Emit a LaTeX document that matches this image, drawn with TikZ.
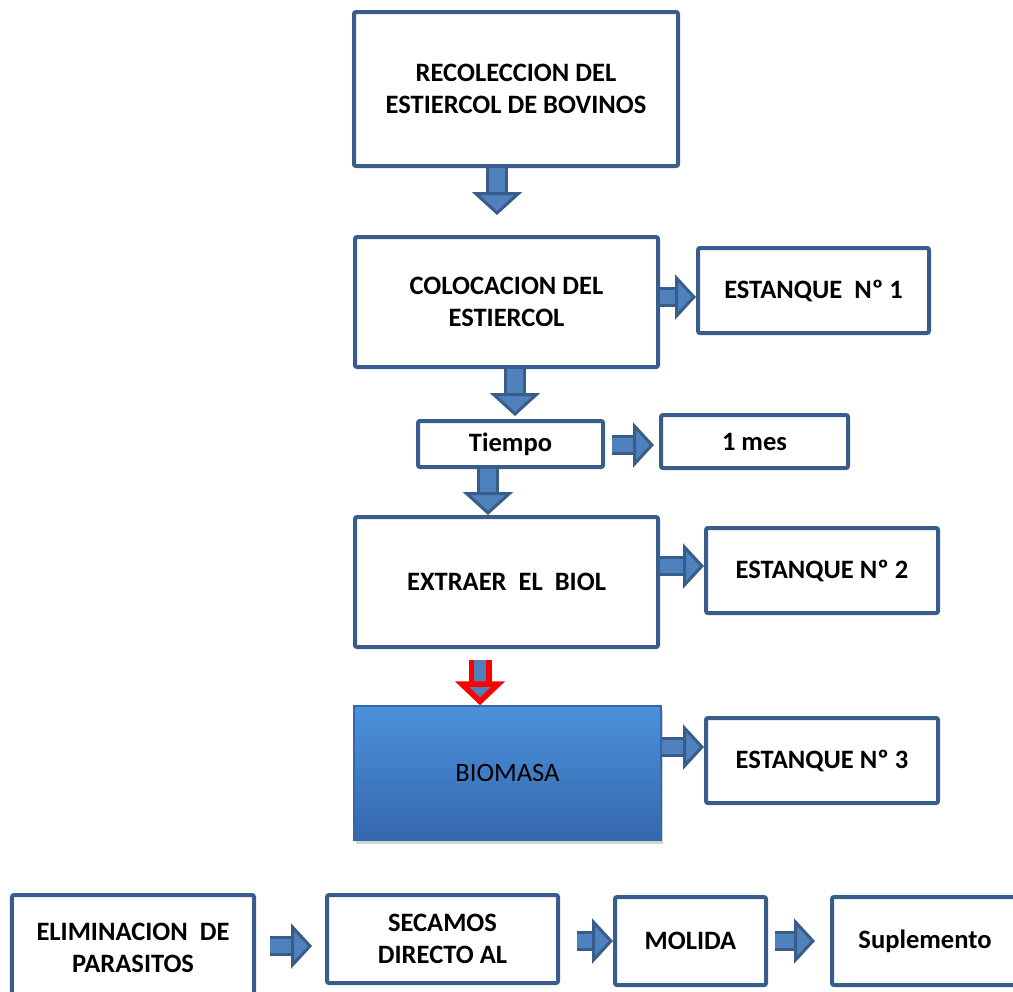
\documentclass[tikz,border=0pt]{standalone}
\usepackage{fontspec}
\setmainfont{Carlito}
\usetikzlibrary{arrows.meta, shadows}
\definecolor{boxline}{RGB}{56,93,138}
\definecolor{arrowblue}{RGB}{79,129,189}
\definecolor{biotop}{RGB}{76,145,220}
\definecolor{biobot}{RGB}{52,104,172}
\tikzstyle{process} = [rectangle, inner sep=0pt, draw=boxline, line width=0.8mm, rounded corners=0.4mm, fill=white, align=center, font=\fontsize{15.1}{18.2}\selectfont\bfseries]
\tikzstyle{bigarrow} = [draw=boxline, line width=0.6mm, double=arrowblue, double distance=3.2mm, -{Triangle[length=4.6mm, width=10mm, line width=0.6mm, fill=arrowblue]}]
\tikzstyle{sidearrow} = [draw=boxline, line width=0.6mm, double=arrowblue, double distance=2.8mm, -{Triangle[length=4.2mm, width=9mm, line width=0.6mm, fill=arrowblue]}]
\tikzstyle{redarrow} = [draw=red, line width=1.1mm, double=arrowblue, double distance=2.4mm, -{Triangle[length=4.8mm, width=9.8mm, line width=1.1mm, fill=arrowblue]}]

\begin{document}
\begin{tikzpicture}[x=0.2mm, y=-0.2mm]
\useasboundingbox (0,0) rectangle (1013,991);

\node (recol) [process, minimum width=64.8mm, minimum height=30.8mm] at (516,89) {RECOLECCION DEL\\ESTIERCOL DE BOVINOS};
\node (coloc) [process, minimum width=60.6mm, minimum height=26mm] at (506.5,302) {COLOCACION DEL\\ESTIERCOL};
\node (est1) [process, minimum width=46.2mm, minimum height=17mm] at (813.5,290.5) {ESTANQUE~~Nº 1};
\node (tiempo) [process, minimum width=37mm, minimum height=9.2mm] at (510.5,444) {Tiempo};
\node (mes) [process, minimum width=37.4mm, minimum height=10.6mm] at (754.5,441.5) {1 mes};
\node (extraer) [process, minimum width=60.6mm, minimum height=26mm] at (506.5,582) {EXTRAER~~EL~~BIOL};
\node (est2) [process, minimum width=46.4mm, minimum height=17mm] at (822,570.5) {ESTANQUE Nº 2};
\node (biomasa) [rectangle, inner sep=0pt, minimum width=61.4mm, minimum height=26.8mm, top color=biotop, bottom color=biobot, draw=biobot, line width=0.3mm, drop shadow={shadow xshift=0.4mm, shadow yshift=-0.8mm, opacity=0.35}, font=\fontsize{15.1}{18.2}\selectfont] at (507.5,773) {BIOMASA};
\node (est3) [process, minimum width=46.4mm, minimum height=17mm] at (822,760.5) {ESTANQUE Nº 3};

\node (elim) [process, minimum width=48.4mm, minimum height=21.2mm] at (133,948) {ELIMINACION~~DE\\PARASITOS};
\node (secamos) [process, minimum width=46.2mm, minimum height=17.6mm] at (442.5,939) {SECAMOS\\DIRECTO AL};
\node (molida) [process, minimum width=30.2mm, minimum height=17.6mm] at (690.5,941) {MOLIDA};
\node (suple) [process, minimum width=37.2mm, minimum height=17.6mm] at (925,941) {Suplemento};

\draw [bigarrow, shorten >=4mm] (497,0 |- recol.south) -- (497,0 |- coloc.north);
\draw [sidearrow] (coloc.east |- 0,297) -- (est1.west |- 0,297);
\draw [bigarrow, shorten >=0.6mm] (515,0 |- coloc.south) -- (515,0 |- tiempo.north);
\draw [sidearrow, shorten <=1.4mm, shorten >=1mm] (tiempo.east |- 0,445) -- (mes.west |- 0,445);
\draw [bigarrow] (488,0 |- tiempo.south) -- (488,0 |- extraer.north);
\draw [sidearrow] (extraer.east |- 0,566) -- (est2.west |- 0,566);
\draw [redarrow, shorten <=2.2mm] (480,0 |- extraer.south) -- (480,0 |- biomasa.north);
\draw [sidearrow] (biomasa.east |- 0,747) -- (est3.west |- 0,747);
\draw [sidearrow, shorten <=2.8mm, shorten >=2.6mm] (elim.east |- 0,946) -- (secamos.west |- 0,946);
\draw [sidearrow, shorten <=3.4mm] (secamos.east |- 0,941) -- (molida.west |- 0,941);
\draw [sidearrow, shorten <=1.4mm, shorten >=3mm] (molida.east |- 0,941) -- (suple.west |- 0,941);

\end{tikzpicture}
\end{document}
